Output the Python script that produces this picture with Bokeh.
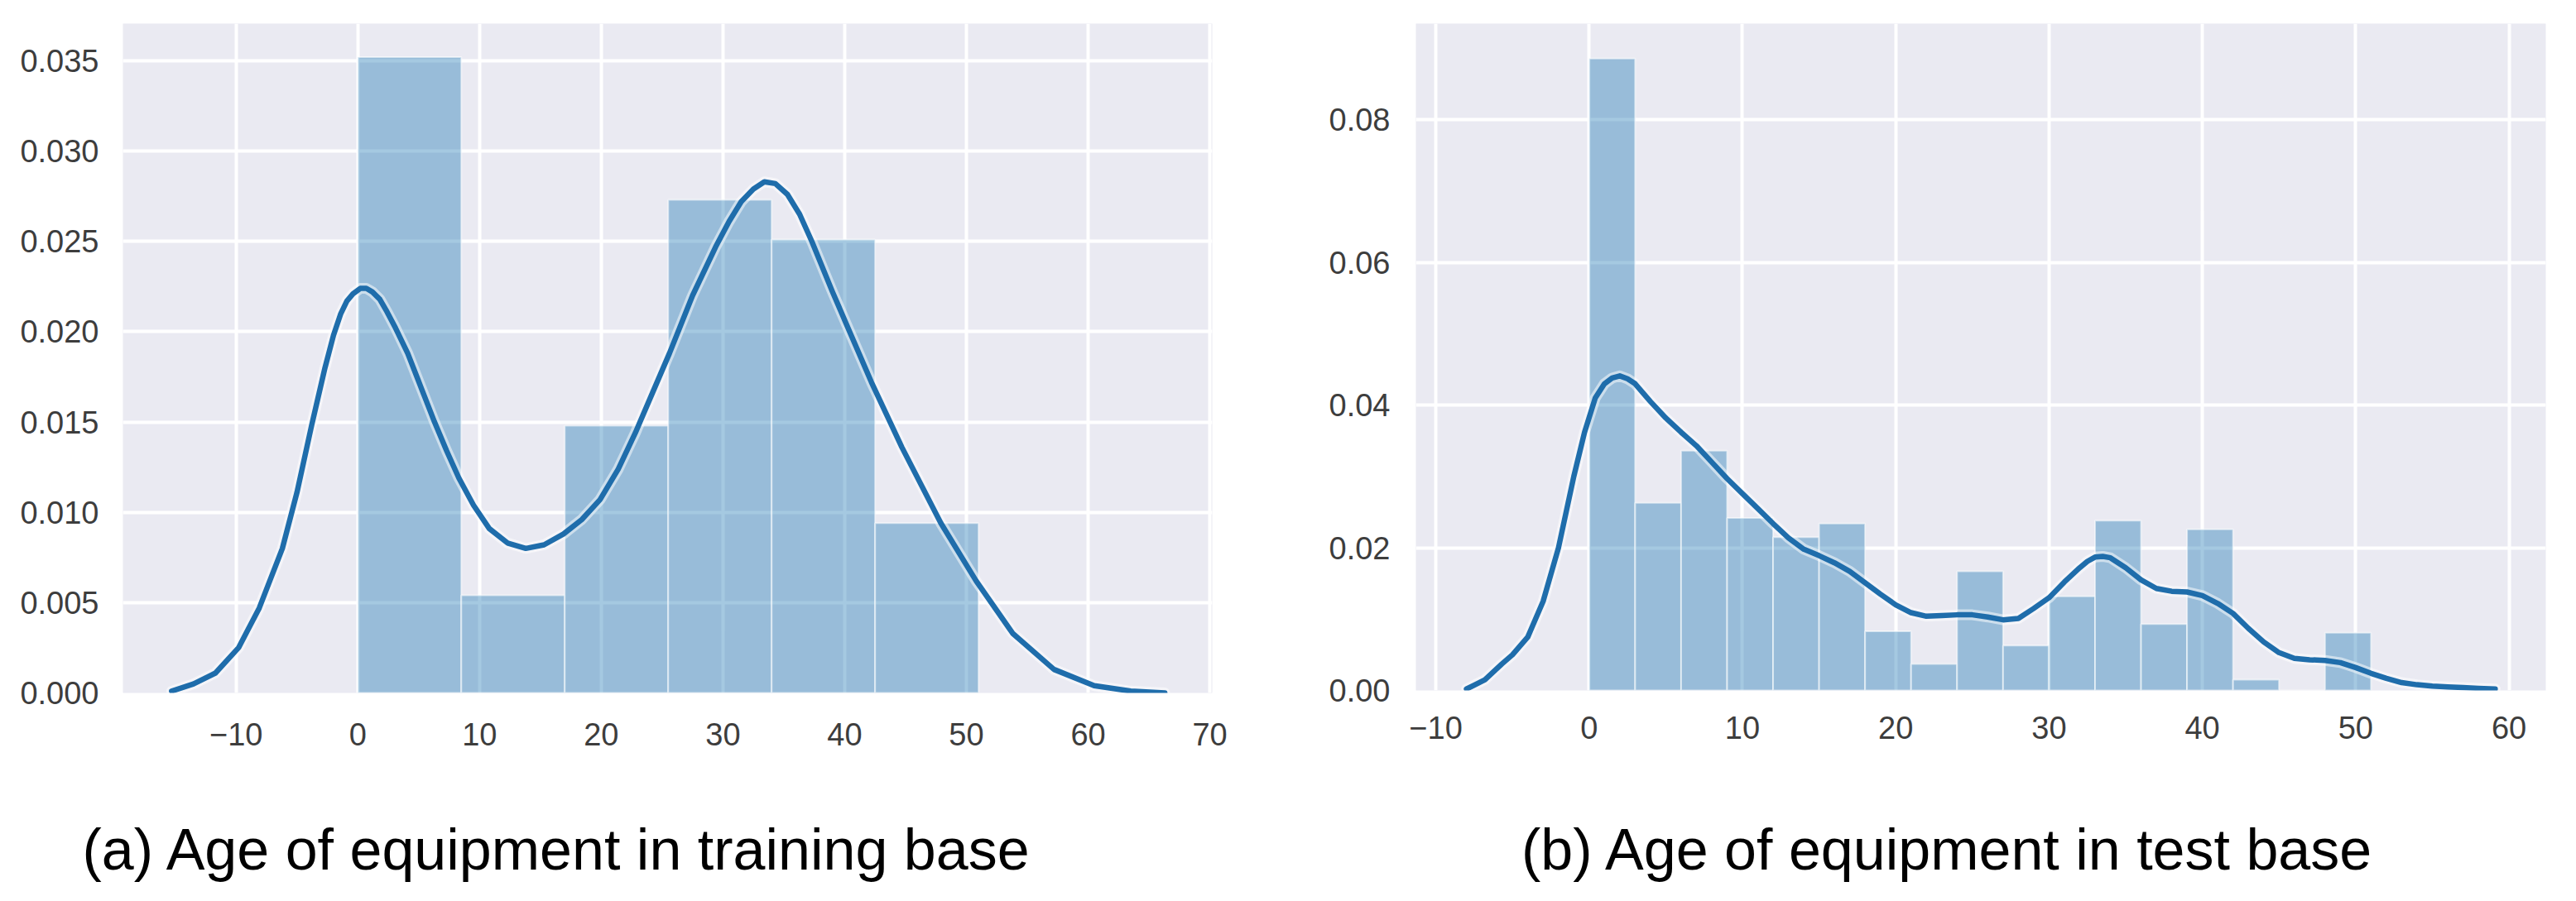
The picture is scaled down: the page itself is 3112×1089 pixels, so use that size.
from bokeh.plotting import figure
from bokeh.layouts import column, row
from bokeh.models import FixedTicker, Range1d
from bokeh.core.properties import value
from bokeh.embed import file_html
from bokeh.resources import INLINE

# ---------------- data: (a) training base ----------------
train_bin_edges = [0, 8.5, 17, 25.5, 34, 42.5, 51]
train_density = [0.0352, 0.0054, 0.0148, 0.0273, 0.0251, 0.0094]
train_kde_x = [-15.3, -13.5, -11.7, -9.8, -8.1, -6.2, -5.0, -3.8, -2.7, -2.0, -1.4, -0.9,
               -0.4, 0.2, 0.7, 1.2, 1.8, 2.4, 3.1, 4.1, 5.2, 6.3, 7.3, 8.3, 9.5, 10.8,
               12.3, 13.8, 15.3, 16.9, 18.4, 19.9, 21.4, 22.8, 24.2, 25.6, 27.5, 29.4,
               30.5, 31.5, 32.5, 33.4, 34.3, 35.3, 36.3, 37.3, 39.0, 40.6, 42.2, 44.7,
               47.9, 50.8, 53.8, 57.2, 60.5, 63.5, 66.3]
train_kde_y = [0.0001, 0.0005, 0.0011, 0.0025, 0.0047, 0.0080, 0.0111, 0.0148, 0.0180,
               0.0198, 0.0210, 0.0217, 0.0221, 0.0224, 0.0224, 0.0222, 0.0218, 0.0211,
               0.0202, 0.0188, 0.0169, 0.0150, 0.0134, 0.0119, 0.0104, 0.0091, 0.0083,
               0.0080, 0.0082, 0.0088, 0.0096, 0.0107, 0.0124, 0.0144, 0.0166, 0.0188,
               0.0220, 0.0247, 0.0261, 0.0272, 0.0279, 0.0283, 0.0282, 0.0276, 0.0265,
               0.0250, 0.0222, 0.0197, 0.0172, 0.0136, 0.0094, 0.0062, 0.0033, 0.0013,
               0.0004, 0.0001, 0.0000]
train_xticks = [-10, 0, 10, 20, 30, 40, 50, 60, 70]
train_xtick_labels = ["\u221210", "0", "10", "20", "30", "40", "50", "60", "70"]
train_yticks = [0.0, 0.005, 0.010, 0.015, 0.020, 0.025, 0.030, 0.035]
train_ytick_labels = ["0.000", "0.005", "0.010", "0.015", "0.020", "0.025", "0.030", "0.035"]

# ---------------- data: (b) test base ----------------
test_bin_edges = [0, 3, 6, 9, 12, 15, 18, 21, 24, 27, 30, 33, 36, 39, 42, 45, 48, 51]
test_density = [0.0886, 0.0263, 0.0336, 0.0242, 0.0215, 0.0234, 0.0083, 0.0037, 0.0167,
                0.0063, 0.0132, 0.0238, 0.0093, 0.0226, 0.0015, 0.0, 0.0081]
test_kde_x = [-8.0, -6.8, -5.7, -5.0, -4.0, -3.0, -2.0, -1.0, -0.3, 0.4, 1.0, 1.5, 2.0, 2.5,
              3.0, 4, 5, 6, 7, 8, 9, 10, 11, 12, 13, 14, 15, 16, 17, 18, 19, 20, 21, 22,
              23, 24, 25, 26, 27, 28, 29, 30, 31, 32, 32.5, 33, 33.5, 34, 35, 36, 37, 38,
              39, 40, 41, 42, 43, 44, 45, 46, 47, 48, 49, 50, 51, 52, 53, 54, 55, 56, 57,
              58, 59.1]
test_kde_y = [0.0002, 0.0015, 0.0037, 0.0050, 0.0075, 0.0125, 0.0200, 0.0300, 0.0362,
              0.0410, 0.0430, 0.0438, 0.0441, 0.0437, 0.0430, 0.0405, 0.0382, 0.0362,
              0.0343, 0.0320, 0.0297, 0.0276, 0.0255, 0.0234, 0.0214, 0.0198, 0.0189,
              0.0179, 0.0167, 0.0151, 0.0135, 0.0120, 0.0109, 0.0104, 0.0105, 0.0106,
              0.0106, 0.0103, 0.0099, 0.0101, 0.0115, 0.0130, 0.0152, 0.0172, 0.0181,
              0.0187, 0.0188, 0.0186, 0.0172, 0.0155, 0.0143, 0.0139, 0.0138, 0.0133,
              0.0122, 0.0108, 0.0087, 0.0068, 0.0053, 0.0045, 0.0043, 0.0042, 0.0039,
              0.0032, 0.0024, 0.0017, 0.0011, 0.0008, 0.0006, 0.0005, 0.0004, 0.0003,
              0.0002]
test_xticks = [-10, 0, 10, 20, 30, 40, 50, 60]
test_xtick_labels = ["\u221210", "0", "10", "20", "30", "40", "50", "60"]
test_yticks = [0.0, 0.02, 0.04, 0.06, 0.08]
test_ytick_labels = ["0.00", "0.02", "0.04", "0.06", "0.08"]

captions = ["(a) Age of equipment in training base", "(b) Age of equipment in test base"]

# ---------------- style ----------------
BG = "#EAEAF2"
BAR = "#1f77b4"
LINE = "#1f6dab"
FONT = "Liberation Sans"
TICK_FS = "38px"
TICK_COLOR = "#3d3d3d"


def panel(edges, dens, kx, ky, xt, xtl, yt, ytl, xr, yr, frame_w, frame_h,
          b_left, b_right, b_top, b_bottom, ystand, xstand):
    p = figure(frame_width=frame_w, frame_height=frame_h, x_range=Range1d(*xr),
               y_range=Range1d(*yr), output_backend="svg", toolbar_location=None,
               title=None, min_border_left=b_left, min_border_right=b_right,
               min_border_top=b_top, min_border_bottom=b_bottom)
    p.background_fill_color = BG
    p.border_fill_color = "white"
    p.outline_line_color = None
    p.quad(left=edges[:-1], right=edges[1:], bottom=0, top=dens,
           fill_color=BAR, fill_alpha=0.4, line_color="white", line_alpha=0.55,
           line_width=2)
    p.line(kx, ky, line_color="white", line_width=13, line_alpha=0.5,
           line_join="round", line_cap="round")
    p.line(kx, ky, line_color=LINE, line_width=6.5, line_join="round", line_cap="round")
    p.xaxis.ticker = FixedTicker(ticks=xt)
    p.xaxis.major_label_overrides = {v: s for v, s in zip(xt, xtl)}
    p.yaxis.ticker = FixedTicker(ticks=yt)
    p.yaxis.major_label_overrides = {v: s for v, s in zip(yt, ytl)}
    for ax in (p.xaxis, p.yaxis):
        ax.axis_line_color = None
        ax.major_tick_line_color = None
        ax.minor_tick_line_color = None
        ax.major_tick_out = 0
        ax.major_label_text_font = FONT
        ax.major_label_text_font_size = TICK_FS
        ax.major_label_text_color = TICK_COLOR
    p.yaxis.major_label_standoff = ystand
    p.xaxis.major_label_standoff = xstand
    p.grid.grid_line_color = "white"
    p.grid.grid_line_width = 4
    return p


p1 = panel(train_bin_edges, train_density, train_kde_x, train_kde_y,
           train_xticks, train_xtick_labels, train_yticks, train_ytick_labels,
           (-19.3, 70.2), (0, 0.03706), 1316, 809, 148, 128, 25, 98, 29, 36)
p2 = panel(test_bin_edges, test_density, test_kde_x, test_kde_y,
           test_xticks, test_xtick_labels, test_yticks, test_ytick_labels,
           (-11.3, 62.4), (0, 0.0935), 1365, 806, 118, 13, 28, 98, 31, 31)

# caption strip
p3 = figure(frame_width=3088, frame_height=135, x_range=Range1d(0, 3088),
            y_range=Range1d(0, 135), output_backend="svg", toolbar_location=None,
            title=None, x_axis_type=None, y_axis_type=None,
            min_border_left=0, min_border_right=0, min_border_top=0, min_border_bottom=0)
p3.outline_line_color = None
p3.background_fill_color = "white"
p3.grid.visible = False
p3.text(x=[673, 2353], y=[41, 41], text=captions, text_align="center",
        text_baseline="alphabetic", text_font=value(FONT), text_font_size="70px",
        text_color="black")

layout = column(row(p1, p2), p3)
open("out.html", "w").write(file_html(layout, INLINE))
